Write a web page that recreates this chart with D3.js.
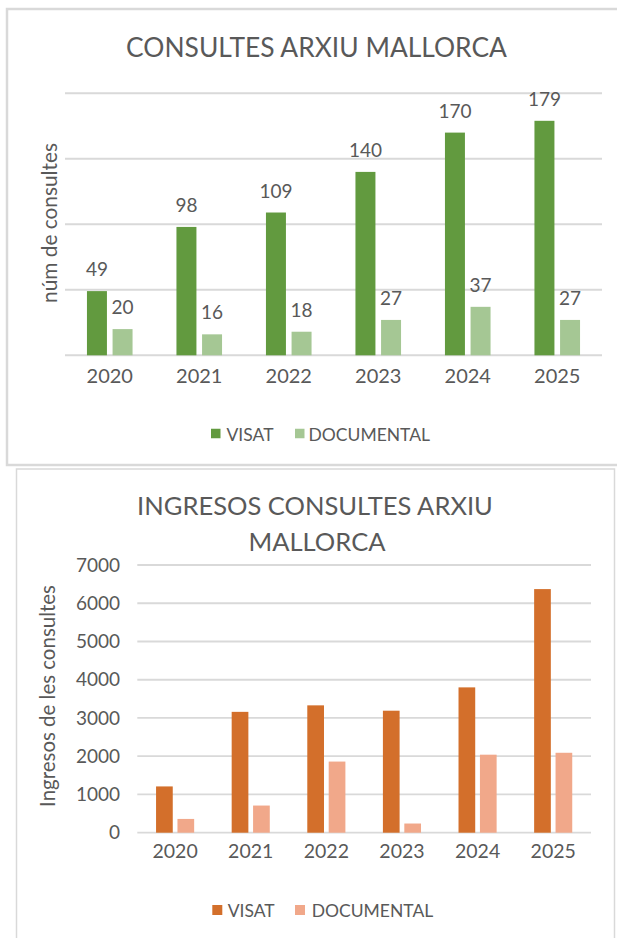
<!DOCTYPE html>
<html>
<head>
<meta charset="utf-8">
<script src="https://cdn.jsdelivr.net/npm/d3@7"></script>
<style>
  html, body { margin: 0; padding: 0; background: #fff; }
  svg { display: block; }
  text { font-family: Lato, "Open Sans", sans-serif; fill: #595959; }
</style>
</head>
<body>
<svg id="chart" width="617" height="938"></svg>
<script>
// ---- data ----
const years = ["2020", "2021", "2022", "2023", "2024", "2025"];
const seriesNames = ["VISAT", "DOCUMENTAL"];
const consultesVisat = [49, 98, 109, 140, 170, 179];
const consultesDocumental = [20, 16, 18, 27, 37, 27];
const consultesTicks = [0, 50, 100, 150, 200];
const ingresosVisat = [1210, 3160, 3330, 3190, 3800, 6370];
const ingresosDocumental = [360, 710, 1860, 240, 2040, 2090];
const ingresosTicks = [0, 1000, 2000, 3000, 4000, 5000, 6000, 7000];

const greenColors = ["#629a3f", "#a5c794"];
const orangeColors = ["#d36f2b", "#f1a88a"];

const svg = d3.select("#chart");

function fitWidth(sel, target) {
  const node = sel.node();
  const size = parseFloat(sel.attr("font-size"));
  const w = node.getComputedTextLength();
  const ns = size * target / w;
  sel.attr("font-size", ns);
  return ns;
}

// ---- frames ----
svg.append("rect").attr("x", 7).attr("y", 9).attr("width", 640).attr("height", 456)
  .attr("fill", "none").attr("stroke", "#d9d9d9").attr("stroke-width", 2.5);
svg.append("rect").attr("x", 16.5).attr("y", 469).attr("width", 598).attr("height", 500)
  .attr("fill", "#fff").attr("stroke", "#d9d9d9").attr("stroke-width", 1.5);

function drawChart(cfg) {
  const g = svg.append("g");
  const x0 = d3.scaleBand().domain(years).range([cfg.left, cfg.right]);
  const x1 = d3.scaleBand().domain(seriesNames).range([0, x0.bandwidth()])
    .paddingInner(0.22).paddingOuter(cfg.outer);
  const y = d3.scaleLinear().domain([0, cfg.max]).range([cfg.bottom, cfg.top]);
  const color = d3.scaleOrdinal().domain(seriesNames).range(cfg.colors);

  // gridlines
  g.append("g").selectAll("line").data(cfg.ticks).join("line")
    .attr("x1", cfg.left).attr("x2", cfg.right)
    .attr("y1", d => y(d)).attr("y2", d => y(d))
    .attr("stroke", "#d9d9d9").attr("stroke-width", cfg.gridW);

  // y tick labels
  if (cfg.showTickLabels) {
    const yAxis = d3.axisLeft(y).tickValues(cfg.ticks).tickSize(0).tickPadding(0).tickFormat(d3.format("d"));
    const ax = g.append("g").attr("transform", `translate(${cfg.tickX},0)`).call(yAxis);
    ax.select(".domain").remove();
    ax.selectAll("text").attr("font-size", cfg.tickFont).attr("fill", "#595959")
      .attr("font-family", "Lato, sans-serif");
  }

  // bars
  const rows = years.map((yr, i) => ({ year: yr, values: [
    { key: seriesNames[0], value: cfg.a[i] },
    { key: seriesNames[1], value: cfg.b[i] } ] }));
  const groups = g.append("g").selectAll("g").data(rows).join("g")
    .attr("transform", d => `translate(${x0(d.year)},0)`);
  groups.selectAll("rect").data(d => d.values).join("rect")
    .attr("x", d => x1(d.key)).attr("width", x1.bandwidth())
    .attr("y", d => y(d.value)).attr("height", d => y(0) - y(d.value))
    .attr("fill", d => color(d.key));

  if (cfg.labels) {
    groups.selectAll("text").data(d => d.values).join("text")
      .attr("x", d => x1(d.key) + x1.bandwidth() / 2)
      .attr("y", d => y(d.value) - 15)
      .attr("text-anchor", "middle").attr("font-size", 19)
      .text(d => d.value);
  }

  // x axis labels
  const xAxis = d3.axisBottom(x0).tickSize(0).tickPadding(0);
  const xa = g.append("g").attr("transform", `translate(0,${cfg.xLabelY})`).call(xAxis);
  xa.select(".domain").remove();
  xa.selectAll("text").attr("font-size", cfg.xFont).attr("fill", "#595959")
    .attr("font-family", "Lato, sans-serif").attr("dy", "0.35em");

  // y title
  const yt = g.append("text").attr("transform", `translate(${cfg.yTitleX},${cfg.yTitleY}) rotate(-90)`)
    .attr("text-anchor", "middle").attr("font-size", 18).text(cfg.yTitle);
  fitWidth(yt, cfg.yTitleLen);

  // title
  let ts = null;
  cfg.title.forEach((line, i) => {
    const t = g.append("text").attr("x", cfg.titleX[i]).attr("y", cfg.titleY[i])
      .attr("text-anchor", "middle").attr("font-size", ts || 28).text(line);
    if (i === 0) ts = fitWidth(t, cfg.titleW);
  });

  // legend
  const lg = g.append("g").selectAll("g").data(seriesNames).join("g");
  lg.append("rect").attr("x", (d, i) => cfg.legSq[i]).attr("y", cfg.legY - cfg.legSize / 2 - 0.5)
    .attr("width", cfg.legSize).attr("height", cfg.legSize).attr("fill", d => color(d));
  lg.append("text").attr("x", (d, i) => cfg.legTx[i]).attr("y", cfg.legY + 6.5)
    .attr("font-size", cfg.legFont).text(d => d);
}

drawChart({
  left: 65, right: 602, top: 93.3, bottom: 355.3, max: 200, outer: 0.857,
  ticks: consultesTicks, a: consultesVisat, b: consultesDocumental,
  colors: greenColors, gridW: 2, showTickLabels: false, labels: true,
  xLabelY: 376, xFont: 20,
  yTitle: "núm de consultes", yTitleX: 57, yTitleY: 223, yTitleLen: 160,
  title: ["CONSULTES ARXIU MALLORCA"], titleX: [316.5], titleY: [57], titleW: 381,
  legSq: [211, 295], legTx: [226.5, 308.5], legY: 434, legSize: 9.5, legFont: 17.5
});

drawChart({
  left: 137.3, right: 591, top: 565, bottom: 832.7, max: 7000, outer: 0.876,
  ticks: ingresosTicks, a: ingresosVisat, b: ingresosDocumental,
  colors: orangeColors, gridW: 1.8, showTickLabels: true, tickX: 120, tickFont: 19,
  labels: false,
  xLabelY: 851, xFont: 19.5,
  yTitle: "Ingresos de les consultes", yTitleX: 55, yTitleY: 696, yTitleLen: 222,
  title: ["INGRESOS CONSULTES ARXIU", "MALLORCA"], titleX: [315, 317], titleY: [515, 551], titleW: 356,
  legSq: [212.3, 295], legTx: [227.7, 311.7], legY: 910.5, legSize: 10, legFont: 17.5
});
</script>
</body>
</html>
